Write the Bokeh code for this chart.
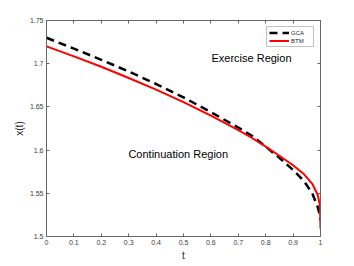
from bokeh.plotting import figure
from bokeh.models import Range1d, LinearAxis, FixedTicker, Label
from bokeh.embed import file_html
from bokeh.resources import INLINE

# ---- data ----
t_vals = [0, 0.1, 0.2, 0.3, 0.4, 0.5, 0.6, 0.7, 0.75, 0.8, 0.85, 0.9, 0.94, 0.97, 0.99, 0.998, 1.0]
gca = [1.730, 1.7175, 1.7045, 1.691, 1.6765, 1.661, 1.644, 1.626, 1.6165, 1.604, 1.591, 1.577, 1.564, 1.550, 1.534, 1.524, 1.519]
btm = [1.720, 1.7085, 1.6965, 1.6835, 1.670, 1.6555, 1.640, 1.623, 1.614, 1.604, 1.5935, 1.5825, 1.572, 1.561, 1.548, 1.536, 1.509]

x_ticks = [0, 0.1, 0.2, 0.3, 0.4, 0.5, 0.6, 0.7, 0.8, 0.9, 1.0]
x_tick_labels = ["0", "0.1", "0.2", "0.3", "0.4", "0.5", "0.6", "0.7", "0.8", "0.9", "1"]
y_ticks = [1.5, 1.55, 1.6, 1.65, 1.7, 1.75]
y_tick_labels = ["1.5", "1.55", "1.6", "1.65", "1.7", "1.75"]

FONT = "Liberation Sans"
AX = "#666666"
TXT = "#404040"

p = figure(width=346, height=264,
           x_range=Range1d(0, 1), y_range=Range1d(1.5, 1.75),
           output_backend="svg", toolbar_location=None,
           min_border_left=46, min_border_right=26,
           min_border_top=20, min_border_bottom=28)
p.xgrid.visible = False
p.ygrid.visible = False
p.outline_line_color = AX
p.background_fill_color = "white"
p.border_fill_color = "white"

def style_axis(ax, ticks, labels, show_labels):
    ax.ticker = FixedTicker(ticks=ticks)
    ax.major_tick_in = 3
    ax.major_tick_out = 0
    ax.minor_tick_line_color = None
    ax.axis_line_color = AX
    ax.major_tick_line_color = AX
    ax.major_label_text_font = FONT
    ax.major_label_text_color = TXT
    if show_labels:
        ax.major_label_overrides = {tk: lb for tk, lb in zip(ticks, labels)}
        ax.major_label_text_font_size = "7px"
        ax.major_label_standoff = 3
    else:
        ax.major_label_overrides = {tk: "" for tk in ticks}
        ax.major_label_text_font_size = "1px"
        ax.major_label_standoff = 0

xa = p.xaxis[0]
ya = p.yaxis[0]
style_axis(xa, x_ticks, x_tick_labels, True)
style_axis(ya, y_ticks, y_tick_labels, True)
xa.axis_label = "t"
ya.axis_label = "x(t)"
for a in (xa, ya):
    a.axis_label_text_font = FONT
    a.axis_label_text_font_size = "10px"
    a.axis_label_text_font_style = "normal"
    a.axis_label_text_color = "#262626"
    a.axis_label_standoff = 2

top = LinearAxis()
style_axis(top, x_ticks, x_tick_labels, False)
p.add_layout(top, "above")
right = LinearAxis()
style_axis(right, y_ticks, y_tick_labels, False)
p.add_layout(right, "right")

p.line(t_vals, gca, line_color="black", line_width=2.5, line_dash="8 5", legend_label="GCA")
p.line(t_vals, btm, line_color="#ff0000", line_width=2, legend_label="BTM")

p.add_layout(Label(x=0.602, y=1.7068, text="Exercise Region", text_font=FONT,
                   text_font_size="11px", text_color="black", text_baseline="alphabetic"))
p.add_layout(Label(x=0.299, y=1.595, text="Continuation Region", text_font=FONT,
                   text_font_size="11px", text_color="black", text_baseline="alphabetic"))

lg = p.legend[0]
lg.location = "top_right"
lg.margin = 6
lg.padding = 2
lg.spacing = 1
lg.label_height = 7
lg.glyph_height = 7
lg.glyph_width = 20
lg.label_standoff = 2
lg.label_text_font = FONT
lg.label_text_font_size = "6px"
lg.label_text_color = "#262626"
lg.border_line_color = "#888888"
lg.border_line_width = 1
lg.background_fill_alpha = 1

open("out.html", "w").write(file_html(p, INLINE))
